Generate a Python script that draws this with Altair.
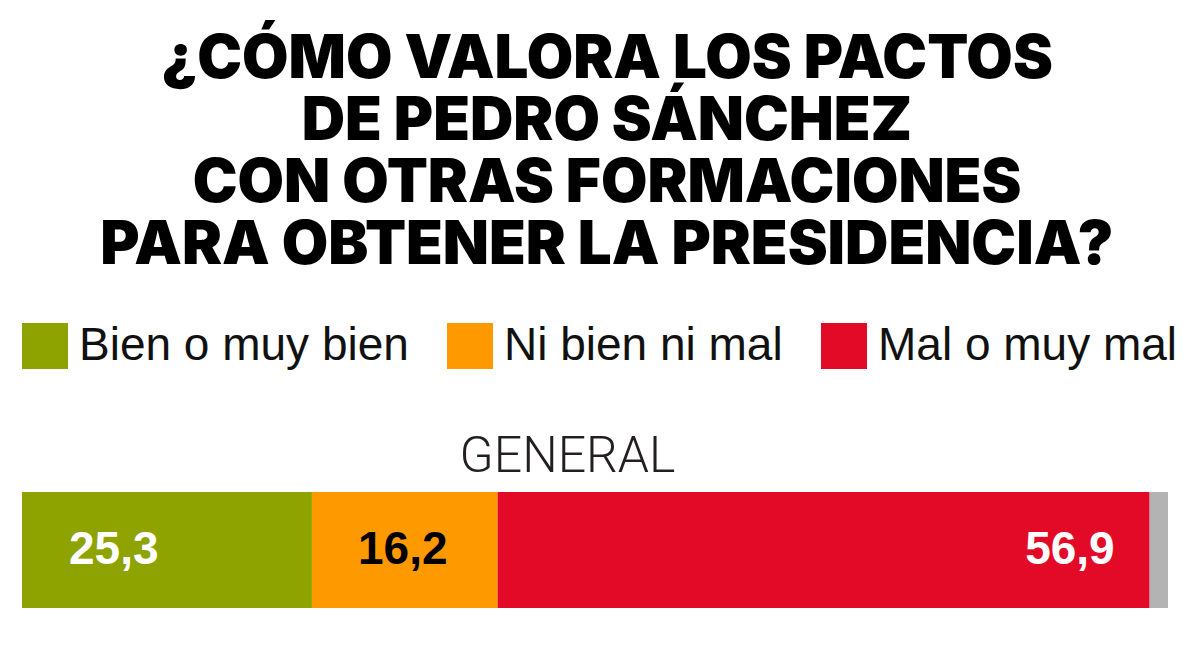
import altair as alt
import pandas as pd

title_lines = [
    "¿CÓMO VALORA LOS PACTOS",
    "DE PEDRO SÁNCHEZ",
    "CON OTRAS FORMACIONES",
    "PARA OBTENER LA PRESIDENCIA?",
]
group = "GENERAL"
categories = ["Bien o muy bien", "Ni bien ni mal", "Mal o muy mal", "NS/NC"]
values = [25.3, 16.2, 56.9, 1.6]
labels = ["25,3", "16,2", "56,9", ""]
colors = ["#8fa300", "#ff9900", "#e30a27", "#b3b3b3"]
legend_items = categories[:3]

df = pd.DataFrame({
    "grupo": [group] * len(categories),
    "cat": categories,
    "valor": values,
    "etiqueta": labels,
    "orden": list(range(len(categories))),
})

color_scale = alt.Scale(domain=categories, range=colors)

x_enc = alt.X(
    "valor:Q",
    stack="zero",
    scale=alt.Scale(domain=[0, 100], nice=False, zero=True),
    axis=alt.Axis(
        orient="top", labels=False, ticks=False, domain=False, grid=False,
        title=group, titleFontSize=50, titleFont="Roboto", titleFontWeight=300,
        titleColor="#231f20", titlePadding=21, titleX=545, titleAlign="center",
        titleBaseline="alphabetic",
    ),
)
y_enc = alt.Y("grupo:N", axis=None, scale=alt.Scale(paddingInner=0, paddingOuter=0))

bars = alt.Chart(df).mark_bar(stroke=None).encode(
    x=x_enc,
    y=y_enc,
    color=alt.Color(
        "cat:N", scale=color_scale,
        legend=alt.Legend(
            title=None, orient="top", direction="horizontal", values=legend_items,
            symbolType="square", symbolSize=2116, symbolStrokeWidth=0, symbolOpacity=1,
            labelFontSize=46, labelFont="Liberation Sans", labelColor="#111",
            labelOffset=11, columnPadding=38, offset=62, labelLimit=600,
        ),
    ),
    order=alt.Order("orden:Q"),
)

def label_layer(cat, align, dx, color, anchor):
    base = alt.Chart(df).transform_stack(
        stack="valor", groupby=["grupo"], as_=["x0", "x1"],
        sort=[alt.SortField("orden", order="ascending")],
    ).transform_calculate(
        mid="(datum.x0 + datum.x1) / 2"
    ).transform_filter(alt.datum.cat == cat)
    return base.mark_text(
        align=align, dx=dx, baseline="middle", fontSize=46,
        font="Liberation Sans", fontWeight="bold", color=color,
    ).encode(
        x=alt.X(f"{anchor}:Q"),
        y=alt.Y("grupo:N"),
        text="etiqueta:N",
    )

lab1 = label_layer(categories[0], "left", 47, "white", "x0")
lab2 = label_layer(categories[1], "center", -2, "black", "mid")
lab3 = label_layer(categories[2], "right", -35, "white", "x1")

chart = alt.layer(bars, lab1, lab2, lab3).properties(
    width=1146,
    height=116,
    title=alt.TitleParams(
        text=title_lines, fontSize=60, font="Inter", fontWeight=900,
        lineHeight=62, anchor="middle", dx=12, offset=46, color="#000",
    ),
    autosize=alt.AutoSizeParams(type="none"),
    padding={"left": 14, "top": 484, "right": 20, "bottom": 40},
    background="white",
).configure_view(stroke=None)

chart.save("out.html", embed_options={"renderer": "svg", "actions": False})
